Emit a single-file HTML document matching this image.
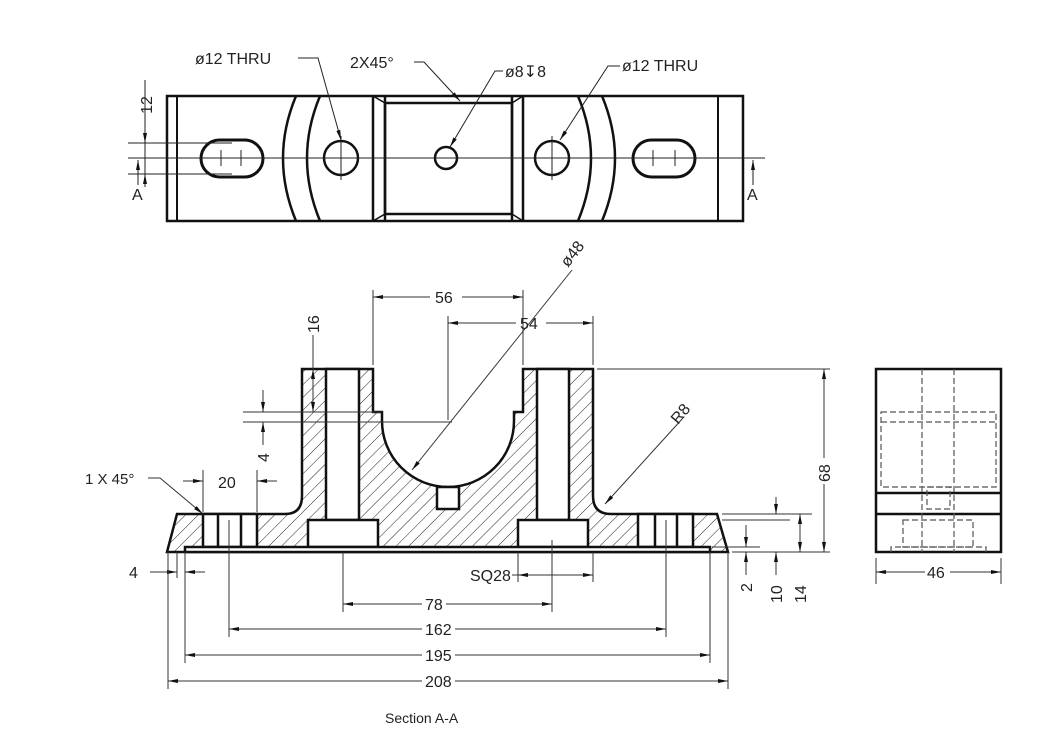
<!DOCTYPE html>
<html><head><meta charset="utf-8"><style>
html,body{margin:0;padding:0;background:#fff}
svg{display:block}
text{font-family:"Liberation Sans",sans-serif;fill:#222;font-size:16px}
</style></head><body>
<svg width="1045" height="739" viewBox="0 0 1045 739" xmlns="http://www.w3.org/2000/svg">
<defs>
<pattern id="h" width="9" height="9" patternUnits="userSpaceOnUse" patternTransform="rotate(45)">
<line x1="0" y1="0" x2="0" y2="9" stroke="#222" stroke-width="1"/>
</pattern>
<marker id="a" viewBox="0 0 10 4" refX="10" refY="2" markerWidth="10" markerHeight="4" orient="auto-start-reverse" markerUnits="userSpaceOnUse"><path d="M0,0L10,2L0,4z" fill="#111"/></marker>
</defs>

<!-- TOP VIEW -->
<g fill="none" stroke="#111" stroke-width="2.5">
<rect x="167" y="96" width="576" height="125"/>
<line x1="177" y1="96" x2="177" y2="221" stroke-width="2"/>
<line x1="718" y1="96" x2="718" y2="221" stroke-width="2"/>
<line x1="373" y1="96" x2="373" y2="221"/>
<line x1="523" y1="96" x2="523" y2="221"/>
<path d="M385,96 L385,221 M512,96 L512,221"/>
<rect x="385" y="103" width="127" height="111"/>
<path d="M373,96 L385,103 M523,96 L512,103 M373,221 L385,214 M523,221 L512,214" stroke-width="1.5"/>
<path d="M296,96 Q270,158 296,221 M320,96 Q294,158 320,221"/>
<path d="M578,96 Q604,158 578,221 M602,96 Q628,158 602,221"/>
<circle cx="341" cy="158" r="17"/>
<circle cx="446" cy="158" r="11"/>
<circle cx="552" cy="158" r="17"/>
<rect x="201" y="140" width="62" height="37" rx="18.5" stroke-width="3"/>
<rect x="633" y="140" width="62" height="37" rx="18.5" stroke-width="3"/>
</g>
<g stroke="#222" stroke-width="1" fill="none">
<line x1="128" y1="158" x2="765" y2="158"/>
<path d="M221,150 V166 M241,150 V166 M653,150 V166 M675,150 V166 M341,136 V180 M552,136 V180"/>
<line x1="128" y1="143" x2="232" y2="143"/><line x1="128" y1="174" x2="232" y2="174"/>
<line x1="145" y1="80" x2="145" y2="185"/>
<line x1="145" y1="130" x2="145" y2="143" marker-end="url(#a)"/>
<line x1="145" y1="187" x2="145" y2="174" marker-end="url(#a)"/>
<line x1="138" y1="185" x2="138" y2="160" marker-end="url(#a)"/>
<line x1="753" y1="185" x2="753" y2="160" marker-end="url(#a)"/>
<path d="M298,58 H318 L341,140" marker-end="url(#a)"/>
<path d="M414,62 H424 L460,101" marker-end="url(#a)"/>
<path d="M503,71 H495 L450,147" marker-end="url(#a)"/>
<path d="M620,66 H608 L560,140" marker-end="url(#a)"/>
</g>
<text x="195" y="64">ø12 THRU</text>
<text x="350" y="68">2X45°</text>
<text x="505" y="77">ø8↧8</text>
<text x="622" y="71">ø12 THRU</text>
<text transform="translate(152,105) rotate(-90)" text-anchor="middle">12</text>
<text x="132" y="200">A</text>
<text x="747" y="200">A</text>

<!-- SECTION -->
<path d="M167,552 L177,514 L285,514 Q302,514 302,496 L302,369 L373,369 L373,412 L382,412 L382,421 A66,66 0 0 0 514,421 L514,412 L523,412 L523,369 L593,369 L593,496 Q593,514 611,514 L717,514 L728,552 Z" fill="url(#h)" stroke="#111" stroke-width="2.5"/>
<g fill="#fff" stroke="#111" stroke-width="2.5">
<rect x="326" y="369" width="33" height="151"/>
<rect x="537" y="369" width="32" height="151"/>
<rect x="308" y="520" width="70" height="27"/>
<rect x="518" y="520" width="70" height="27"/>
<rect x="437" y="487" width="22" height="22"/>
<rect x="203" y="514" width="54" height="33"/>
<rect x="638" y="514" width="55" height="33"/>
<rect x="185" y="547" width="525" height="5"/>
</g>
<g stroke="#111" stroke-width="2.5"><path d="M218,514 V547 M241,514 V547 M655,514 V547 M677,514 V547"/></g>

<!-- section dims -->
<g stroke="#333" stroke-width="1" fill="none">
<path d="M373,365 V290 M523,365 V290 M448,420 V316 M593,365 V316"/>
<line x1="430" y1="297" x2="373" y2="297" marker-end="url(#a)"/><line x1="462" y1="297" x2="523" y2="297" marker-end="url(#a)"/>
<line x1="516" y1="323" x2="448" y2="323" marker-end="url(#a)"/><line x1="546" y1="323" x2="593" y2="323" marker-end="url(#a)"/>
<line x1="572" y1="270" x2="412" y2="470" marker-end="url(#a)"/>
<line x1="313" y1="335" x2="313" y2="412"/>
<line x1="313" y1="390" x2="313" y2="369" marker-end="url(#a)"/>
<line x1="313" y1="392" x2="313" y2="412" marker-end="url(#a)"/>
<path d="M243,412 H382 M243,422 H452"/>
<line x1="263" y1="390" x2="263" y2="412" marker-end="url(#a)"/>
<line x1="263" y1="445" x2="263" y2="422" marker-end="url(#a)"/>
<path d="M203,470 V512 M257,470 V512"/>
<line x1="183" y1="481" x2="203" y2="481" marker-end="url(#a)"/>
<line x1="277" y1="481" x2="257" y2="481" marker-end="url(#a)"/>
<path d="M148,478 H160 L203,514" marker-end="url(#a)"/>
<line x1="683" y1="418" x2="605" y2="504" marker-end="url(#a)"/>
<path d="M597,369 H830 M732,552 H830 M722,514 H812 M722,520 H790 M712,547 H760"/>
<line x1="824" y1="458" x2="824" y2="369" marker-end="url(#a)"/><line x1="824" y1="484" x2="824" y2="552" marker-end="url(#a)"/>
<line x1="800" y1="533" x2="800" y2="514" marker-end="url(#a)"/><line x1="800" y1="533" x2="800" y2="552" marker-end="url(#a)"/>
<line x1="776" y1="497" x2="776" y2="514" marker-end="url(#a)"/><line x1="776" y1="575" x2="776" y2="552" marker-end="url(#a)"/>
<line x1="746" y1="525" x2="746" y2="547" marker-end="url(#a)"/><line x1="746" y1="575" x2="746" y2="552" marker-end="url(#a)"/>
<path d="M177,552 V578 M185,552 V578"/>
<line x1="150" y1="572" x2="177" y2="572" marker-end="url(#a)"/><line x1="205" y1="572" x2="185" y2="572" marker-end="url(#a)"/>
<path d="M518,552 V582 M593,552 V582"/>
<line x1="512" y1="575" x2="518" y2="575"/><line x1="555" y1="575" x2="518" y2="575" marker-end="url(#a)"/><line x1="555" y1="575" x2="593" y2="575" marker-end="url(#a)"/>
<path d="M343,552 V612 M552,540 V612 M229,520 V637 M666,520 V637 M185,552 V663 M710,552 V663 M168,552 V689 M728,552 V689"/>
<line x1="422" y1="604" x2="343" y2="604" marker-end="url(#a)"/><line x1="446" y1="604" x2="552" y2="604" marker-end="url(#a)"/>
<line x1="422" y1="629" x2="229" y2="629" marker-end="url(#a)"/><line x1="455" y1="629" x2="666" y2="629" marker-end="url(#a)"/>
<line x1="422" y1="655" x2="185" y2="655" marker-end="url(#a)"/><line x1="455" y1="655" x2="710" y2="655" marker-end="url(#a)"/>
<line x1="422" y1="681" x2="168" y2="681" marker-end="url(#a)"/><line x1="455" y1="681" x2="728" y2="681" marker-end="url(#a)"/>
</g>
<text x="435" y="303">56</text>
<text x="520" y="329">54</text>
<text transform="translate(568,268) rotate(-52)">ø48</text>
<text transform="translate(319,333) rotate(-90)">16</text>
<text transform="translate(269,462) rotate(-90)">4</text>
<text x="218" y="488">20</text>
<text x="85" y="484" style="font-size:15px">1 X 45°</text>
<text transform="translate(678,425) rotate(-50)">R8</text>
<text transform="translate(830,482) rotate(-90)">68</text>
<text transform="translate(806,603) rotate(-90)">14</text>
<text transform="translate(782,603) rotate(-90)">10</text>
<text transform="translate(752,592) rotate(-90)">2</text>
<text x="129" y="578">4</text>
<text x="470" y="581">SQ28</text>
<text x="425" y="610">78</text>
<text x="425" y="635">162</text>
<text x="425" y="661">195</text>
<text x="425" y="687">208</text>
<text x="385" y="723" style="font-size:14px">Section A-A</text>

<!-- SIDE VIEW -->
<g fill="none" stroke="#111" stroke-width="2.5">
<rect x="876" y="369" width="125" height="183"/>
<path d="M876,493 H1001 M876,514 H1001"/>
</g>
<g fill="none" stroke="#555" stroke-width="1.2" stroke-dasharray="6,3">
<path d="M922,369 V552 M954,369 V552"/>
<rect x="881" y="412" width="115" height="75"/>
<line x1="881" y1="422" x2="996" y2="422"/>
<rect x="927" y="487" width="23" height="22"/>
<rect x="903" y="520" width="70" height="27"/>
<path d="M891,552 V547 H986 V552"/>
</g>
<g stroke="#333" stroke-width="1" fill="none">
<path d="M876,558 V584 M1001,558 V584"/>
<line x1="925" y1="572" x2="876" y2="572" marker-end="url(#a)"/><line x1="950" y1="572" x2="1001" y2="572" marker-end="url(#a)"/>
</g>
<text x="927" y="578">46</text>
</svg>
</body></html>
